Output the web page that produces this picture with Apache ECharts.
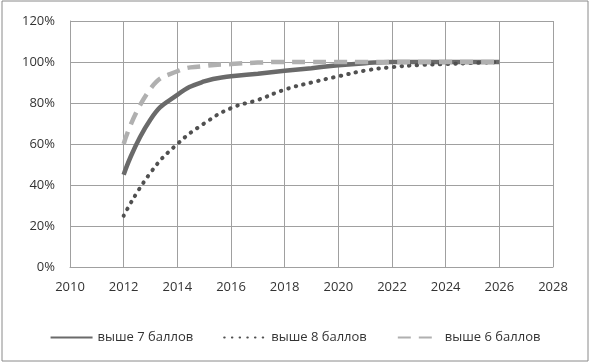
<!DOCTYPE html>
<html><head><meta charset="utf-8">
<script src="https://cdn.jsdelivr.net/npm/echarts@6/dist/echarts.min.js"></script>
<style>html,body{margin:0;padding:0;background:#fff}#c{width:590px;height:363px}</style>
</head><body><div id="c"></div>
<script>
const years = [2012,2013,2014,2015,2016,2017,2018,2019,2020,2021,2022,2023,2024,2025,2026];
const above7 = [45,72,84,90.5,93,94.3,95.7,97,98.4,99.4,100,100,100,100,100];
const above8 = [25,46,60,70,77.5,81.5,86.5,90,93,95.8,97.5,98.5,99,99.5,100];
const above6 = [60,87,95.5,98,99,99.7,100,100,100,100,100,100,100,100,100];
const seriesNames = ['выше 7 баллов','выше 8 баллов','выше 6 баллов'];
const xTicks = {min:2010, max:2028, interval:2};
const yTicks = {min:0, max:120, interval:20};

const font = '"Open Sans", "Noto Sans", sans-serif';
const pair = arr => years.map((y,i)=>[y,arr[i]]);
const chart = echarts.init(document.getElementById('c'), null, {renderer:'canvas'});
chart.setOption({
  animation:false,
  graphic:[{type:'rect', shape:{x:2,y:1,width:586,height:360}, style:{fill:'none', stroke:'#8a8a8a', lineWidth:1}, silent:true}],
  grid:{left:70, right:37, top:21, bottom:96, containLabel:false},
  xAxis:{type:'value', min:xTicks.min, max:xTicks.max, interval:xTicks.interval,
    axisLine:{show:true, lineStyle:{color:'#a0a0a0', width:1}}, axisTick:{show:false},
    splitLine:{show:true, lineStyle:{color:'#a0a0a0', width:1}},
    axisLabel:{color:'#333', fontSize:13, fontFamily:font, margin:14, formatter:v=>String(v)}},
  yAxis:{type:'value', min:yTicks.min, max:yTicks.max, interval:yTicks.interval,
    axisLine:{show:true, lineStyle:{color:'#a0a0a0', width:1}}, axisTick:{show:false},
    splitLine:{show:true, lineStyle:{color:'#a0a0a0', width:1}},
    axisLabel:{color:'#333', fontSize:13, fontFamily:font, margin:15, formatter:v=>v+'%'}},
  legend:{bottom:14, left:'center', itemWidth:42, itemHeight:10, itemGap:30,
    itemStyle:{opacity:0},
    textStyle:{color:'#333', fontSize:13, fontFamily:font},
    data:seriesNames},
  series:[
    {name:seriesNames[0], type:'line', smooth:true, showSymbol:false, symbol:'none', data:pair(above7),
     lineStyle:{color:'#6a6a6a', width:4.5}, itemStyle:{color:'#6a6a6a'}},
    {name:seriesNames[1], type:'line', smooth:true, showSymbol:false, symbol:'none', data:pair(above8),
     lineStyle:{color:'#505050', width:4, type:[0.5,7.2], cap:'round'}, itemStyle:{color:'#505050'}},
    {name:seriesNames[2], type:'line', smooth:true, showSymbol:false, symbol:'none', data:pair(above6),
     lineStyle:{color:'#b0b0b0', width:4.5, type:[13,8]}, itemStyle:{color:'#b0b0b0'}}
  ]
});
</script></body></html>
